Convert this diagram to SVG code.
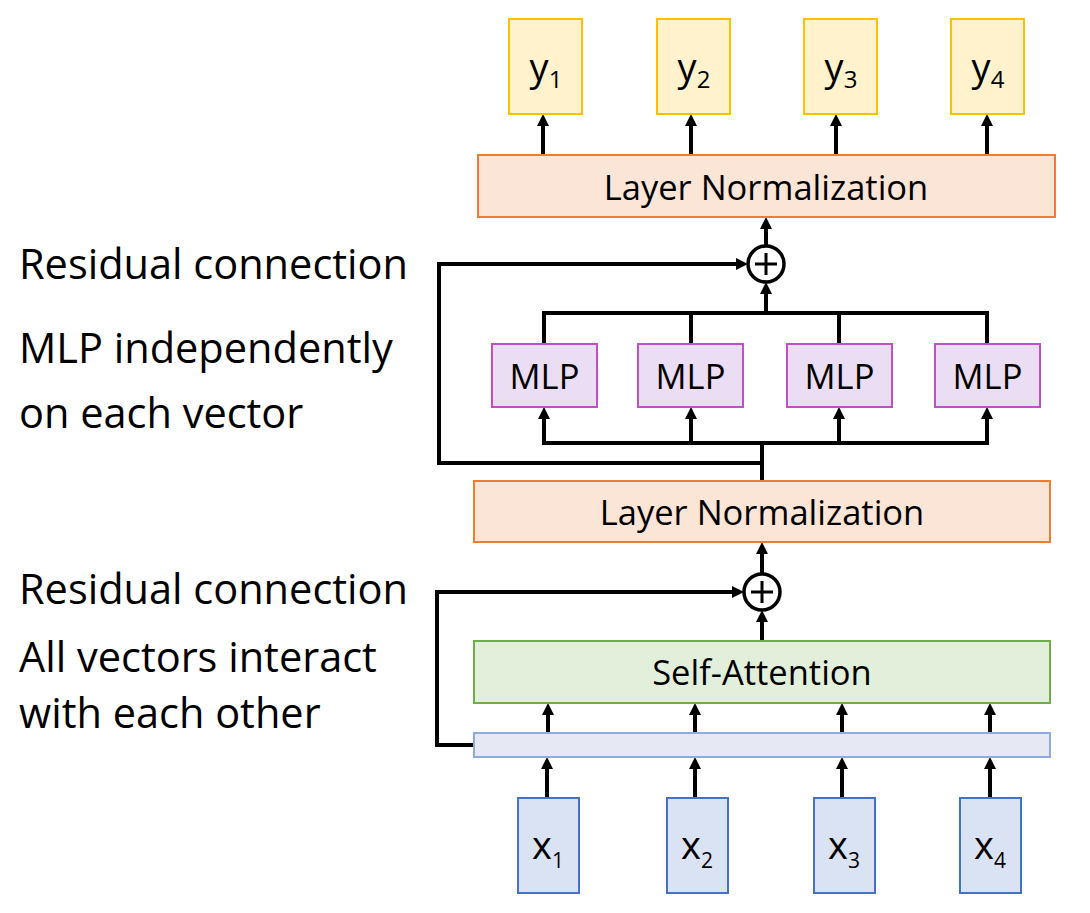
<svg xmlns="http://www.w3.org/2000/svg" width="1090" height="913" viewBox="0 0 1090 913">
<style>
text{font-family:"Open Sans","Liberation Sans",sans-serif;fill:#000}
.lbl{font-size:41.5px}
.box{font-size:34.5px;text-anchor:middle}
.vec{font-size:38px;text-anchor:middle}
.ybox{fill:#FFF2CC;stroke:#FFC000;stroke-width:2}
.ln{fill:#FBE5D6;stroke:#ED7D31;stroke-width:2}
.mlp{fill:#EBDDF3;stroke:#C04FC8;stroke-width:2}
.sa{fill:#E2EFDA;stroke:#70AD47;stroke-width:2}
.bar{fill:#E6E9F3;stroke:#8FAADC;stroke-width:2}
.xbox{fill:#DAE3F3;stroke:#4472C4;stroke-width:2}
.c{fill:none;stroke:#000;stroke-width:4}
.a{fill:none;stroke:#000;stroke-width:4;marker-end:url(#ah)}
.plus{fill:#fff;stroke:#000;stroke-width:3.5}
</style>
<defs>
<marker id="ah" markerWidth="12" markerHeight="12" refX="6" refY="6" orient="auto" markerUnits="userSpaceOnUse">
<path d="M0,0 L12,6 L0,12 z" fill="#000"/>
</marker>
</defs>

<g id="labels">
<text class="lbl" x="19" y="279">Residual connection</text>
<text class="lbl" x="19" y="363">MLP independently</text>
<text class="lbl" x="19" y="428">on each vector</text>
<text class="lbl" x="19" y="604">Residual connection</text>
<text class="lbl" x="19" y="672">All vectors interact</text>
<text class="lbl" x="19" y="728">with each other</text>
</g>

<g id="connectors">
<line class="a" x1="543" y1="155" x2="543" y2="120"/>
<line class="a" x1="691" y1="155" x2="691" y2="120"/>
<line class="a" x1="836" y1="155" x2="836" y2="120"/>
<line class="a" x1="987" y1="155" x2="987" y2="120"/>
<line class="a" x1="766" y1="246" x2="766" y2="223"/>
<line class="a" x1="766" y1="313" x2="766" y2="288"/>
<polyline class="c" points="544,344 544,313 987,313 987,344"/>
<line class="c" x1="691" y1="313" x2="691" y2="344"/>
<line class="c" x1="839" y1="313" x2="839" y2="344"/>
<line class="c" x1="544" y1="443" x2="987" y2="443"/>
<line class="a" x1="544" y1="445" x2="544" y2="413"/>
<line class="a" x1="691" y1="445" x2="691" y2="413"/>
<line class="a" x1="839" y1="445" x2="839" y2="413"/>
<line class="a" x1="987" y1="445" x2="987" y2="413"/>
<line class="c" x1="762" y1="481" x2="762" y2="443"/>
<polyline class="a" points="762,463 439,463 439,264 742,264"/>
<line class="a" x1="762" y1="574" x2="762" y2="548"/>
<line class="a" x1="762" y1="641" x2="762" y2="616"/>
<polyline class="a" points="474,745 437,745 437,592 738,592"/>
<line class="a" x1="548" y1="733" x2="548" y2="709"/>
<line class="a" x1="695" y1="733" x2="695" y2="709"/>
<line class="a" x1="842" y1="733" x2="842" y2="709"/>
<line class="a" x1="990" y1="733" x2="990" y2="709"/>
<line class="a" x1="547" y1="798" x2="547" y2="763"/>
<line class="a" x1="695" y1="798" x2="695" y2="763"/>
<line class="a" x1="842" y1="798" x2="842" y2="763"/>
<line class="a" x1="990" y1="798" x2="990" y2="763"/>
</g>

<g id="y1"><rect class="ybox" x="509" y="19" width="73" height="95"/><text class="vec" x="546" y="81">y<tspan font-size="24" dy="7">1</tspan></text></g>
<g id="y2"><rect class="ybox" x="657" y="19" width="73" height="95"/><text class="vec" x="694" y="81">y<tspan font-size="24" dy="7">2</tspan></text></g>
<g id="y3"><rect class="ybox" x="804" y="19" width="73" height="95"/><text class="vec" x="841" y="81">y<tspan font-size="24" dy="7">3</tspan></text></g>
<g id="y4"><rect class="ybox" x="951" y="19" width="73" height="95"/><text class="vec" x="988" y="81">y<tspan font-size="24" dy="7">4</tspan></text></g>

<g id="layernorm2"><rect class="ln" x="478" y="155" width="577" height="62"/><text class="box" x="766" y="200">Layer Normalization</text></g>

<g id="add2"><circle class="plus" cx="766" cy="264" r="18"/><line x1="755" y1="264" x2="777" y2="264" stroke="#000" stroke-width="3"/><line x1="766" y1="253" x2="766" y2="275" stroke="#000" stroke-width="3"/></g>

<g id="mlp1"><rect class="mlp" x="492" y="344" width="105" height="63"/><text class="box" x="544.5" y="389">MLP</text></g>
<g id="mlp2"><rect class="mlp" x="638" y="344" width="105" height="63"/><text class="box" x="690.5" y="389">MLP</text></g>
<g id="mlp3"><rect class="mlp" x="787" y="344" width="105" height="63"/><text class="box" x="839.5" y="389">MLP</text></g>
<g id="mlp4"><rect class="mlp" x="935" y="344" width="105" height="63"/><text class="box" x="987.5" y="389">MLP</text></g>

<g id="layernorm1"><rect class="ln" x="474" y="481" width="576" height="61"/><text class="box" x="762" y="525">Layer Normalization</text></g>

<g id="add1"><circle class="plus" cx="762" cy="592" r="18"/><line x1="751" y1="592" x2="773" y2="592" stroke="#000" stroke-width="3"/><line x1="762" y1="581" x2="762" y2="603" stroke="#000" stroke-width="3"/></g>

<g id="selfattention"><rect class="sa" x="474" y="641" width="576" height="62"/><text class="box" x="762" y="685">Self-Attention</text></g>

<g id="inputbar"><rect class="bar" x="474" y="733" width="576" height="24"/></g>

<g id="x1"><rect class="xbox" x="518" y="798" width="61" height="95"/><text class="vec" x="548" y="859">x<tspan font-size="21" dy="9">1</tspan></text></g>
<g id="x2"><rect class="xbox" x="667" y="798" width="61" height="95"/><text class="vec" x="697" y="859">x<tspan font-size="21" dy="9">2</tspan></text></g>
<g id="x3"><rect class="xbox" x="814" y="798" width="61" height="95"/><text class="vec" x="844" y="859">x<tspan font-size="21" dy="9">3</tspan></text></g>
<g id="x4"><rect class="xbox" x="960" y="798" width="61" height="95"/><text class="vec" x="990" y="859">x<tspan font-size="21" dy="9">4</tspan></text></g>
</svg>
